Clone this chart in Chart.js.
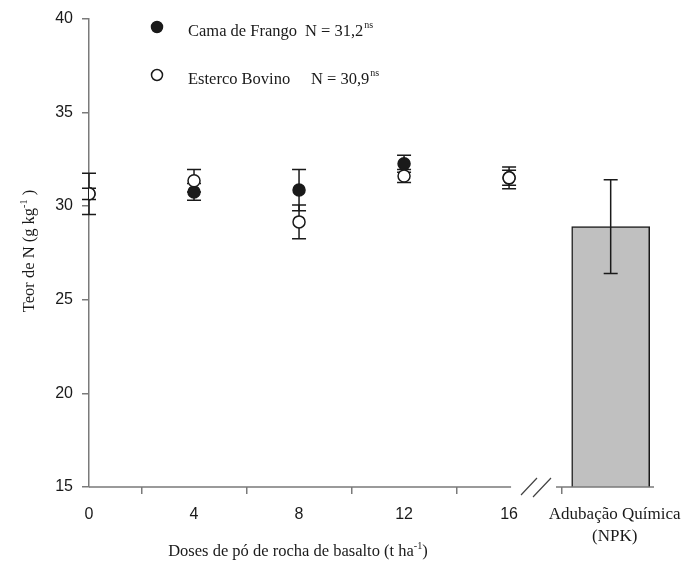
<!DOCTYPE html>
<html>
<head>
<meta charset="utf-8">
<script src="https://cdn.jsdelivr.net/npm/chart.js@4"></script>
<style>
  body { margin: 0; background: #fff; }
  #wrap { width: 687px; height: 564px; }
</style>
</head>
<body>
<div id="wrap"><canvas id="chart"></canvas></div>
<script>
// data
const doses = [0, 4, 8, 12, 16];
const camaValues = [30.65, 30.75, 30.85, 32.25, 31.5];
const camaErrors = [1.1, 0.45, 1.1, 0.45, 0.4];
const estercoValues = [30.65, 31.35, 29.15, 31.6, 31.5];
const estercoErrors = [0.3, 0.6, 0.9, 0.35, 0.58];
const npkValue = 28.9;
const npkError = 2.5;
const npkSlot = 19.87; // where the NPK bar sits on the x scale, after the break
const doseTicks = [0, 4, 8, 12, 16];

const axisGray = '#7a7a7a';
const ink = '#1a1a1a';
const serif = '"Liberation Serif", "Times New Roman", serif';
const sans = '"Liberation Sans", Arial, sans-serif';

// draw text made of pieces, some raised as superscripts
function drawPieces(ctx, pieces, x, y, size) {
    let total = 0;
    pieces.forEach(p => {
        ctx.font = (p.sup ? size * 0.62 : size) + 'px ' + serif;
        total += ctx.measureText(p.t).width;
    });
    let cx = x - total / 2;
    pieces.forEach(p => {
        ctx.font = (p.sup ? size * 0.62 : size) + 'px ' + serif;
        ctx.fillText(p.t, cx, p.sup ? y - size * 0.42 : y);
        cx += ctx.measureText(p.t).width;
    });
    return total;
}

function vErrorBar(ctx, xp, yTop, yBot, cap) {
    ctx.beginPath();
    ctx.moveTo(xp, yTop); ctx.lineTo(xp, yBot);
    ctx.moveTo(xp - cap, yTop); ctx.lineTo(xp + cap, yTop);
    ctx.moveTo(xp - cap, yBot); ctx.lineTo(xp + cap, yBot);
    ctx.stroke();
}

const errorBars = {
    id: 'errorBars',
    afterDatasetDraw(chart, args) {
        if (args.index !== 0) return; // right after the bar, below the circles
        const { ctx, scales: { x, y } } = chart;
        ctx.save();
        ctx.strokeStyle = ink;
        ctx.lineWidth = 1.5;
        doses.forEach((d, i) => {
            const xp = x.getPixelForValue(d);
            vErrorBar(ctx, xp, y.getPixelForValue(camaValues[i] + camaErrors[i]), y.getPixelForValue(camaValues[i] - camaErrors[i]), 7);
            vErrorBar(ctx, xp, y.getPixelForValue(estercoValues[i] + estercoErrors[i]), y.getPixelForValue(estercoValues[i] - estercoErrors[i]), 7);
        });
        vErrorBar(ctx, x.getPixelForValue(npkSlot), y.getPixelForValue(npkValue + npkError), y.getPixelForValue(npkValue - npkError), 7);
        ctx.restore();
    }
};

const decorations = {
    id: 'decorations',
    afterDraw(chart) {
        const { ctx, chartArea, scales: { x, y } } = chart;
        const base = chartArea.bottom;
        ctx.save();

        // broken x axis
        ctx.strokeStyle = axisGray;
        ctx.lineWidth = 1.5;
        ctx.beginPath();
        ctx.moveTo(chartArea.left, base);
        ctx.lineTo(x.getPixelForValue(16) + 2, base);
        ctx.moveTo(chartArea.right - 98, base);
        ctx.lineTo(chartArea.right, base);
        ctx.stroke();
        ctx.strokeStyle = '#444';
        ctx.lineWidth = 1.2;
        ctx.beginPath();
        ctx.moveTo(521, base + 8); ctx.lineTo(537, base - 9);
        ctx.moveTo(533, base + 10); ctx.lineTo(551, base - 9);
        ctx.stroke();

        ctx.fillStyle = ink;
        ctx.textBaseline = 'alphabetic';

        // category label under the bar
        const bx = x.getPixelForValue(npkSlot) + 4;
        ctx.font = '17px ' + serif;
        ctx.textAlign = 'center';
        ctx.fillText('Adubação Química', bx, 519);
        ctx.fillText('(NPK)', bx, 541);
        ctx.textAlign = 'left';

        // axis titles
        drawPieces(ctx, [{ t: 'Doses de pó de rocha de basalto (t ha' }, { t: '-1', sup: true }, { t: ')' }], 298, 556, 16.5);
        ctx.save();
        ctx.translate(34, 251);
        ctx.rotate(-Math.PI / 2);
        drawPieces(ctx, [{ t: 'Teor de N (g kg' }, { t: '-1', sup: true }, { t: ' )' }], 0, 0, 16.5);
        ctx.restore();

        // legend
        const rows = [
            { y: 27, fill: ink, name: 'Cama de Frango', stat: 'N = 31,2' },
            { y: 75, fill: '#fff', name: 'Esterco Bovino', stat: 'N = 30,9' }
        ];
        rows.forEach(r => {
            ctx.beginPath();
            ctx.arc(157, r.y, 5.5, 0, Math.PI * 2);
            ctx.fillStyle = r.fill;
            ctx.fill();
            ctx.strokeStyle = ink;
            ctx.lineWidth = 1.5;
            ctx.stroke();
            ctx.fillStyle = ink;
            ctx.font = '16.5px ' + serif;
            ctx.fillText(r.name, 188, r.y + 9);
            const sx = r.y < 50 ? 305 : 311;
            ctx.fillText(r.stat, sx, r.y + 9);
            const w = ctx.measureText(r.stat).width;
            ctx.font = '10px ' + serif;
            ctx.fillText('ns', sx + w + 1, r.y + 1);
        });
        ctx.restore();
    }
};

const ctx = document.getElementById('chart').getContext('2d');
new Chart(ctx, {
    type: 'scatter',
    data: {
        datasets: [
            {
                type: 'bar',
                label: 'Adubação Química (NPK)',
                data: [{ x: npkSlot, y: npkValue }],
                backgroundColor: '#c0c0c0',
                borderColor: ink,
                borderWidth: 1.5,
                barThickness: 78,
                order: 3
            },
            {
                label: 'Cama de Frango',
                data: doses.map((d, i) => ({ x: d, y: camaValues[i] })),
                pointRadius: 6,
                pointBackgroundColor: ink,
                pointBorderColor: ink,
                pointBorderWidth: 1.5,
                order: 2
            },
            {
                label: 'Esterco Bovino',
                data: doses.map((d, i) => ({ x: d, y: estercoValues[i] })),
                pointRadius: 6,
                pointBackgroundColor: '#fff',
                pointBorderColor: ink,
                pointBorderWidth: 1.5,
                order: 1
            }
        ]
    },
    options: {
        responsive: true,
        maintainAspectRatio: false,
        animation: false,
        layout: { padding: { top: 17, right: 33, left: 0, bottom: 0 } },
        plugins: { legend: { display: false }, tooltip: { enabled: false } },
        scales: {
            x: {
                type: 'linear',
                min: 0,
                max: 21.52,
                offset: false,
                afterBuildTicks: scale => { scale.ticks = doseTicks.map(v => ({ value: v })); },
                afterFit: scale => { scale.height = 77; },
                border: { display: false },
                grid: { drawOnChartArea: false, drawTicks: true, tickLength: 7, color: axisGray, lineWidth: 1.5 },
                ticks: { color: ink, font: { family: sans, size: 16 }, padding: 11, maxRotation: 0 }
            },
            y: {
                min: 15,
                max: 40,
                afterFit: scale => { scale.width = 89; },
                border: { display: true, color: axisGray, width: 1.5 },
                grid: { drawOnChartArea: false, drawTicks: true, tickLength: 7, color: axisGray, lineWidth: 1.5 },
                ticks: { stepSize: 5, color: ink, font: { family: sans, size: 16 }, padding: 9 }
            }
        }
    },
    plugins: [errorBars, decorations]
});
</script>
</body>
</html>
